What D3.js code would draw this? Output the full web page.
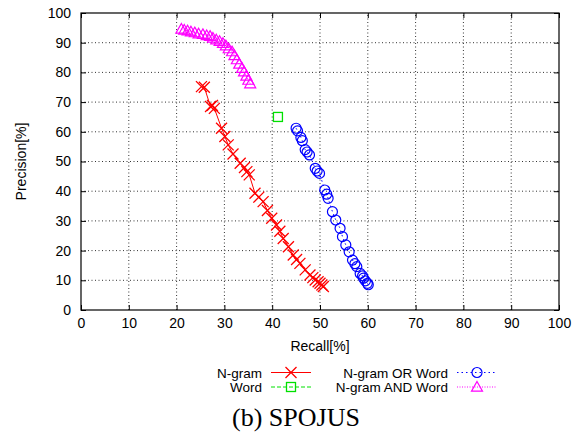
<!DOCTYPE html>
<html>
<head>
<meta charset="utf-8">
<script src="https://cdn.jsdelivr.net/npm/d3@7"></script>
<style>
  body { margin: 0; background: #fff; }
  text { font-family: "Liberation Sans", Arial, sans-serif; font-size: 14px; fill: #000; }
</style>
</head>
<body>
<script>
var width = 580,
    height = 434;

// values (recall %, precision %)
var ngramRecall = [25.2, 25.8, 27.1, 27.5, 27.9, 29.4, 30.1, 30.8, 31.8, 33.3, 34.2, 34.7, 35.2, 36.4, 37.2, 38.1, 39.0, 39.9, 40.9, 41.6, 42.3, 43.4, 44.4, 45.1, 45.8, 46.9, 47.9, 48.5, 49.0, 49.6, 50.0, 50.4, 50.7];
var ngramPrec   = [75.2, 75.0, 68.5, 68.9, 67.9, 61.2, 58.4, 55.6, 52.5, 49.4, 48.0, 46.6, 45.5, 39.3, 38.0, 36.5, 33.5, 30.9, 28.6, 26.5, 24.1, 21.3, 18.5, 17.0, 15.7, 13.5, 11.8, 10.9, 10.1, 9.5, 9.0, 8.4, 7.9];

var wordRecall = [41.2];
var wordPrec   = [65.0];

var orRecall = [45.0, 45.3, 46.0, 46.3, 46.9, 47.3, 47.8, 49.0, 49.4, 49.9, 51.0, 51.4, 51.7, 52.6, 53.3, 54.2, 54.7, 55.4, 56.1, 56.8, 57.3, 57.7, 58.4, 58.9, 59.1, 59.5, 59.9, 60.1];
var orPrec   = [61.2, 60.3, 58.1, 57.0, 54.0, 53.2, 52.2, 47.7, 46.8, 46.0, 40.4, 39.0, 37.6, 33.1, 30.3, 27.5, 24.7, 21.9, 19.6, 16.8, 15.6, 14.6, 12.3, 11.5, 10.7, 9.8, 9.0, 8.5];

var andRecall = [21.0, 21.6, 22.3, 23.0, 23.8, 24.6, 25.5, 26.3, 27.0, 27.6, 28.3, 29.0, 29.7, 30.3, 30.9, 31.6, 32.1, 32.6, 33.1, 33.7, 34.1, 34.6, 35.0, 35.4];
var andPrec   = [94.6, 94.3, 94.0, 93.7, 93.4, 93.0, 92.8, 92.4, 92.2, 91.6, 91.0, 90.5, 89.8, 89.0, 88.0, 87.0, 85.7, 84.3, 82.8, 81.4, 80.2, 78.8, 77.4, 76.2];

var tickValues = [0, 10, 20, 30, 40, 50, 60, 70, 80, 90, 100];

var zip = function(xs, ys) { return xs.map(function(v, i) { return [v, ys[i]]; }); };

var series = [
  { name: "N-gram",          pts: zip(ngramRecall, ngramPrec), color: "#ff0000", dash: null,    marker: "x" },
  { name: "Word",            pts: zip(wordRecall, wordPrec),   color: "#00e000", dash: "4,2",   marker: "square" },
  { name: "N-gram OR Word",  pts: zip(orRecall, orPrec),       color: "#0000ff", dash: "1.5,3", marker: "circle" },
  { name: "N-gram AND Word", pts: zip(andRecall, andPrec),     color: "#ff00ff", dash: "1,1.5", marker: "triangle" }
];

var x = d3.scaleLinear().domain([0, 100]).range([81, 559]);
var y = d3.scaleLinear().domain([0, 100]).range([310, 13]);

var svg = d3.select("body").append("svg")
    .attr("width", width)
    .attr("height", height);

// grid
var grid = svg.append("g");
tickValues.slice(1, -1).forEach(function(t) {
  grid.append("line")
    .attr("x1", x(t)).attr("x2", x(t)).attr("y1", y(0)).attr("y2", y(100))
    .attr("stroke", "#333").attr("stroke-width", 1).attr("stroke-dasharray", "1,2.5");
  grid.append("line")
    .attr("y1", y(t)).attr("y2", y(t)).attr("x1", x(0)).attr("x2", x(100))
    .attr("stroke", "#333").attr("stroke-width", 1).attr("stroke-dasharray", "1,2.5");
});

// axes with inward ticks, mirrored
var tl = 5;
svg.append("g").attr("transform", "translate(0," + y(0) + ")")
  .call(d3.axisBottom(x).tickValues(tickValues).tickSizeInner(-tl).tickSizeOuter(0).tickPadding(8));
svg.append("g").attr("transform", "translate(0," + y(100) + ")")
  .call(d3.axisTop(x).tickValues(tickValues).tickSizeInner(-tl).tickSizeOuter(0).tickFormat(""));
svg.append("g").attr("transform", "translate(" + x(0) + ",0)")
  .call(d3.axisLeft(y).tickValues(tickValues).tickSizeInner(-tl).tickSizeOuter(0).tickPadding(10));
svg.append("g").attr("transform", "translate(" + x(100) + ",0)")
  .call(d3.axisRight(y).tickValues(tickValues).tickSizeInner(-tl).tickSizeOuter(0).tickFormat(""));

svg.selectAll(".domain").remove();
svg.selectAll(".tick line").attr("stroke", "#000");
svg.selectAll(".tick text")
  .style("font-family", "Liberation Sans, Arial, sans-serif")
  .style("font-size", "14px")
  .attr("fill", "#000");

svg.append("rect")
  .attr("x", x(0)).attr("y", y(100))
  .attr("width", x(100) - x(0)).attr("height", y(0) - y(100))
  .attr("fill", "none").attr("stroke", "#000").attr("stroke-width", 1.2);

// axis titles
svg.append("text")
  .attr("x", (x(0) + x(100)) / 2).attr("y", 351)
  .attr("text-anchor", "middle")
  .text("Recall[%]");
svg.append("text")
  .attr("transform", "translate(26," + (y(0) + y(100)) / 2 + ") rotate(-90)")
  .attr("text-anchor", "middle")
  .text("Precision[%]");

function drawMarker(g, kind, cx, cy, color) {
  if (kind === "x") {
    var s = 5.5;
    g.append("path")
      .attr("d", "M" + (cx - s) + "," + (cy - s) + "L" + (cx + s) + "," + (cy + s) +
                 "M" + (cx - s) + "," + (cy + s) + "L" + (cx + s) + "," + (cy - s))
      .attr("stroke", color).attr("stroke-width", 1.3).attr("fill", "none");
  } else if (kind === "square") {
    g.append("rect")
      .attr("x", cx - 4.5).attr("y", cy - 4.5).attr("width", 9).attr("height", 9)
      .attr("stroke", color).attr("stroke-width", 1.3).attr("fill", "none");
  } else if (kind === "circle") {
    g.append("circle")
      .attr("cx", cx).attr("cy", cy).attr("r", 5)
      .attr("stroke", color).attr("stroke-width", 1.2).attr("fill", "none");
  } else if (kind === "triangle") {
    var h = 5.5;
    g.append("path")
      .attr("d", "M" + cx + "," + (cy - h) + "L" + (cx + h) + "," + (cy + h * 0.75) +
                 "L" + (cx - h) + "," + (cy + h * 0.75) + "Z")
      .attr("stroke", color).attr("stroke-width", 1.2).attr("fill", "none");
  }
}

var line = d3.line()
    .x(function(d) { return x(d[0]); })
    .y(function(d) { return y(d[1]); });

var plot = svg.append("g");
series.forEach(function(s) {
  plot.append("path")
    .datum(s.pts)
    .attr("d", line)
    .attr("fill", "none")
    .attr("stroke", s.color)
    .attr("stroke-width", 1)
    .attr("stroke-dasharray", s.dash);
  s.pts.forEach(function(p) {
    drawMarker(plot, s.marker, x(p[0]), y(p[1]), s.color);
  });
});

// legend, two columns
var legendPos = [
  { tx: 262, ly: 372.5 },
  { tx: 262, ly: 387 },
  { tx: 448, ly: 372.5 },
  { tx: 448, ly: 387 }
];
var legend = svg.append("g");
series.forEach(function(s, i) {
  var p = legendPos[i];
  legend.append("text")
    .attr("x", p.tx).attr("y", p.ly + 5)
    .attr("text-anchor", "end")
    .style("font-size", "13.5px")
    .text(s.name);
  legend.append("line")
    .attr("x1", p.tx + 9).attr("x2", p.tx + 49)
    .attr("y1", p.ly).attr("y2", p.ly)
    .attr("stroke", s.color).attr("stroke-width", 1)
    .attr("stroke-dasharray", s.dash);
  drawMarker(legend, s.marker, p.tx + 29, p.ly, s.color);
});

// caption
svg.append("text")
  .attr("x", 232).attr("y", 426)
  .style("font-family", "Liberation Serif, 'Times New Roman', serif")
  .style("font-size", "26px")
  .text("(b) SPOJUS");
</script>
</body>
</html>
